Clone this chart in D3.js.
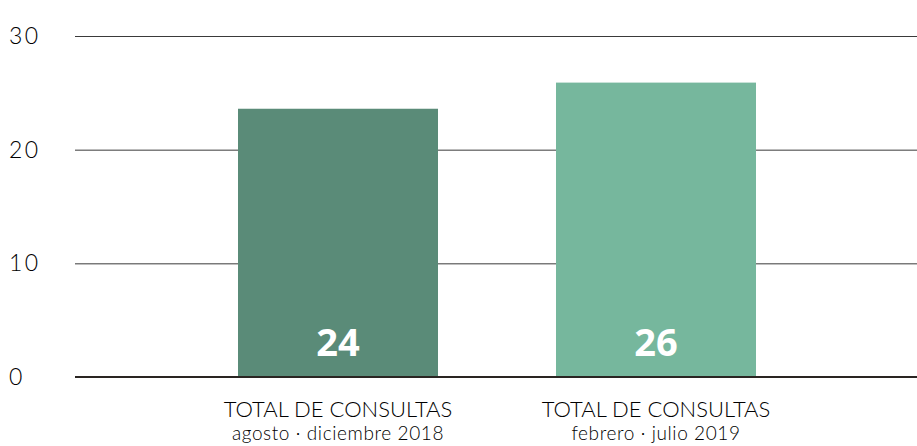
<!DOCTYPE html>
<html><head><meta charset="utf-8">
<script src="https://cdn.jsdelivr.net/npm/d3@7"></script>
<style>body{margin:0;background:#fff}svg{display:block}</style>
</head><body>
<svg id="c" width="917" height="446"></svg>
<script>
const categories = ["TOTAL DE CONSULTAS|agosto · diciembre 2018", "TOTAL DE CONSULTAS|febrero · julio 2019"];
const values = [23.6, 25.9];
const valueLabels = ["24", "26"];
const colors = ["#5a8b78", "#76b79d"];
const yTicks = [0, 10, 20, 30];

const svg = d3.select("#c");
const y = d3.scaleLinear().domain([0, 30]).range([377, 36]);
const xb = d3.scalePoint().domain(categories).range([338, 656]);
const bw = 200;

svg.append("g").selectAll("line").data(yTicks.filter(d => d > 0)).join("line")
  .attr("x1", 75).attr("x2", 917)
  .attr("y1", d => y(d) + 0.5).attr("y2", d => y(d) + 0.5)
  .attr("stroke", "#3a3a3a").attr("stroke-width", 1);

svg.append("g").selectAll("text").data(yTicks).join("text")
  .attr("x", 9).attr("y", d => y(d) + 8)
  .attr("font-family", "Lato, sans-serif").attr("font-weight", 300)
  .attr("font-size", 23).attr("fill", "#000").attr("letter-spacing", 2.5)
  .text(d => d);

svg.append("g").selectAll("rect").data(values).join("rect")
  .attr("x", (d, i) => xb(categories[i]) - bw / 2)
  .attr("width", bw)
  .attr("y", d => y(d))
  .attr("height", d => y(0) - y(d))
  .attr("fill", (d, i) => colors[i]);

svg.append("line").attr("x1", 75).attr("x2", 917)
  .attr("y1", y(0)).attr("y2", y(0))
  .attr("stroke", "#2a2522").attr("stroke-width", 2);

svg.append("g").selectAll("text").data(valueLabels).join("text")
  .attr("x", (d, i) => xb(categories[i]))
  .attr("y", 356)
  .attr("text-anchor", "middle")
  .attr("font-family", "Open Sans, sans-serif").attr("font-weight", 700)
  .attr("font-size", 38).attr("fill", "#fff")
  .text(d => d);

const cat = svg.append("g").selectAll("g").data(categories).join("g");
cat.append("text")
  .attr("x", d => xb(d)).attr("y", 417)
  .attr("text-anchor", "middle")
  .attr("font-family", "Lato, sans-serif").attr("font-weight", 300)
  .attr("font-size", 22).attr("fill", "#000")
  .text(d => d.split("|")[0]);
cat.append("text")
  .attr("x", d => xb(d)).attr("y", 440)
  .attr("text-anchor", "middle")
  .attr("font-family", "Lato, sans-serif").attr("font-weight", 300)
  .attr("font-size", 19).attr("fill", "#000").attr("letter-spacing", 0.6)
  .text(d => d.split("|")[1]);
</script>
</body></html>
